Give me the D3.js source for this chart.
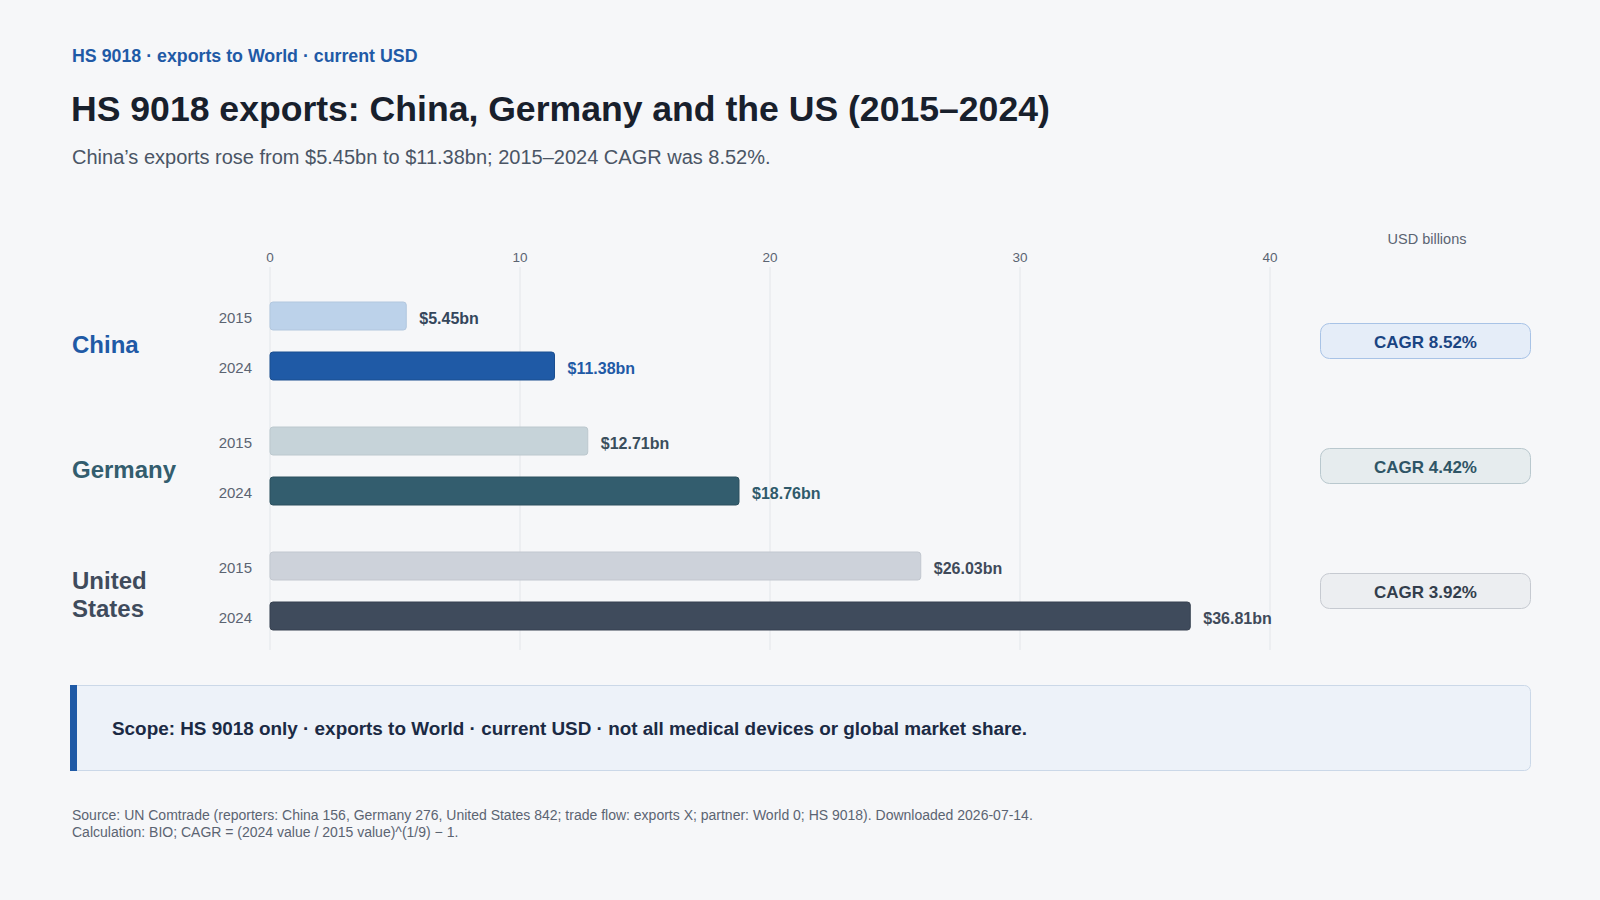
<!DOCTYPE html>
<html>
<head>
<meta charset="utf-8">
<script src="https://cdn.jsdelivr.net/npm/d3@7"></script>
<style>
  html, body { margin: 0; padding: 0; background: #f6f7f9; }
  svg { display: block; font-family: "Liberation Sans", Arial, Helvetica, sans-serif; }
</style>
</head>
<body>
<div id="chart"></div>
<script>
(function() {
    var width = 1600,
        height = 900;

    // data
    var countries = ["China", "Germany", "United States"];
    var years = ["2015", "2024"];
    var values2015 = [5.45, 12.71, 26.03];
    var values2024 = [11.38, 18.76, 36.81];
    var cagr = [8.52, 4.42, 3.92];
    var xTicks = [0, 10, 20, 30, 40];

    // colours per country
    var palette = {
        "China":         { light: "#bcd2ea", dark: "#1f5aa6", label: "#1f5aa6", lightText: "#34465c", darkText: "#1f5aa6", pill: "#e5edf8", pillStroke: "#a8c3e6", pillText: "#1a4482" },
        "Germany":       { light: "#c6d3d9", dark: "#335d6e", label: "#335d6e", lightText: "#3a4e5c", darkText: "#2f5a6b", pill: "#e6ecee", pillStroke: "#b9c8ce", pillText: "#2f5566" },
        "United States": { light: "#cdd2da", dark: "#3f4b5c", label: "#3f4b5c", lightText: "#3f4a5a", darkText: "#3f4a5a", pill: "#eceef1", pillStroke: "#c6cad1", pillText: "#333e4d" }
    };

    var svg = d3.select("#chart")
        .append("svg")
        .attr("width", width)
        .attr("height", height);

    svg.append("rect")
        .attr("width", width)
        .attr("height", height)
        .attr("fill", "#f6f7f9");

    // header texts
    svg.append("text")
        .attr("x", 72)
        .attr("y", 62)
        .text("HS 9018 · exports to World · current USD")
        .style("font-weight", "bold")
        .style("font-size", "17.8px")
        .style("fill", "#1f5aa6");

    svg.append("text")
        .attr("x", 71)
        .attr("y", 121)
        .text("HS 9018 exports: China, Germany and the US (2015–2024)")
        .style("font-weight", "bold")
        .style("font-size", "35.6px")
        .style("fill", "#18202c");

    svg.append("text")
        .attr("x", 72)
        .attr("y", 164)
        .text("China’s exports rose from $5.45bn to $11.38bn; 2015–2024 CAGR was 8.52%.")
        .style("font-size", "20px")
        .style("fill", "#4a5565");

    // scales
    var x = d3.scaleLinear()
        .domain([0, 40])
        .range([270, 1270]);

    var yGroup = d3.scaleBand()
        .domain(countries)
        .range([278.5, 653.5]);

    var yYear = d3.scaleBand()
        .domain(years)
        .range([12.5, 112.5])
        .paddingInner(0.44)
        .paddingOuter(0.22);

    // gridlines + tick labels
    var axis = svg.append("g").attr("class", "axis");
    axis.selectAll("line")
        .data(xTicks)
        .enter()
        .append("line")
        .attr("x1", function(d) { return x(d); })
        .attr("x2", function(d) { return x(d); })
        .attr("y1", 267)
        .attr("y2", 650)
        .style("stroke", "#e3e6ea")
        .style("stroke-width", 1);

    axis.selectAll("text")
        .data(xTicks)
        .enter()
        .append("text")
        .attr("x", function(d) { return x(d); })
        .attr("y", 262)
        .text(function(d) { return d; })
        .style("text-anchor", "middle")
        .style("font-size", "13.5px")
        .style("fill", "#5b6472");

    svg.append("text")
        .attr("x", 1427)
        .attr("y", 244)
        .text("USD billions")
        .style("text-anchor", "middle")
        .style("font-size", "14.5px")
        .style("fill", "#5b6472");

    // groups
    var groups = svg.selectAll(".country")
        .data(countries)
        .enter()
        .append("g")
        .attr("class", "country")
        .attr("transform", function(d) { return "translate(0," + yGroup(d) + ")"; });

    groups.each(function(country, i) {
        var g = d3.select(this);
        var col = palette[country];
        var mid = yGroup.bandwidth() / 2;

        // country label
        var words = country === "United States" ? ["United", "States"] : [country];
        var label = g.append("text")
            .attr("x", 72)
            .attr("y", mid + 12 - (words.length - 1) * 14)
            .style("font-weight", "bold")
            .style("font-size", "24px")
            .style("fill", col.label);
        words.forEach(function(w, k) {
            label.append("tspan")
                .attr("x", 72)
                .attr("dy", k === 0 ? 0 : 28)
                .text(w);
        });

        var rows = [
            { year: years[0], value: values2015[i], fill: col.light, text: col.lightText },
            { year: years[1], value: values2024[i], fill: col.dark, text: col.darkText }
        ];

        rows.forEach(function(r, k) {
            var y0 = yYear(r.year);
            var bh = yYear.bandwidth();

            g.append("text")
                .attr("x", 252)
                .attr("y", y0 + bh / 2 + 7)
                .text(r.year)
                .style("text-anchor", "end")
                .style("font-size", "15px")
                .style("fill", "#5b6472");

            g.append("rect")
                .attr("x", x(0))
                .attr("y", y0)
                .attr("width", x(r.value) - x(0))
                .attr("height", bh)
                .attr("rx", 3)
                .style("fill", r.fill)
                .style("stroke", k === 0 ? d3.color(r.fill).darker(0.15) : d3.color(r.fill).darker(0.4))
                .style("stroke-width", 1);

            g.append("text")
                .attr("x", x(r.value) + 13)
                .attr("y", y0 + bh / 2 + 8)
                .text("$" + r.value.toFixed(2) + "bn")
                .style("font-weight", "bold")
                .style("font-size", "16px")
                .style("fill", r.text);
        });

        // CAGR pill
        g.append("rect")
            .attr("x", 1320.5)
            .attr("y", mid - 17.5)
            .attr("width", 210)
            .attr("height", 35)
            .attr("rx", 9)
            .style("fill", col.pill)
            .style("stroke", col.pillStroke)
            .style("stroke-width", 1);

        g.append("text")
            .attr("x", 1425.5)
            .attr("y", mid + 6.5)
            .text("CAGR " + cagr[i].toFixed(2) + "%")
            .style("text-anchor", "middle")
            .style("font-weight", "bold")
            .style("font-size", "17px")
            .style("fill", col.pillText);
    });

    // scope box
    svg.append("rect")
        .attr("x", 70.5)
        .attr("y", 685.5)
        .attr("width", 1460)
        .attr("height", 85)
        .attr("rx", 6)
        .style("fill", "#edf2f9")
        .style("stroke", "#cbd8e8");

    svg.append("rect")
        .attr("x", 70)
        .attr("y", 685)
        .attr("width", 7)
        .attr("height", 86)
        .style("fill", "#1f5aa6");

    svg.append("text")
        .attr("x", 112)
        .attr("y", 735)
        .text("Scope: HS 9018 only · exports to World · current USD · not all medical devices or global market share.")
        .style("font-weight", "bold")
        .style("font-size", "18.9px")
        .style("fill", "#1b2a44");

    // source notes
    var notes = [
        "Source: UN Comtrade (reporters: China 156, Germany 276, United States 842; trade flow: exports X; partner: World 0; HS 9018). Downloaded 2026-07-14.",
        "Calculation: BIO; CAGR = (2024 value / 2015 value)^(1/9) − 1."
    ];
    svg.selectAll(".note")
        .data(notes)
        .enter()
        .append("text")
        .attr("class", "note")
        .attr("x", 72)
        .attr("y", function(d, i) { return 820 + i * 17; })
        .text(function(d) { return d; })
        .style("font-size", "14px")
        .style("fill", "#5b6472");
})();
</script>
</body>
</html>
